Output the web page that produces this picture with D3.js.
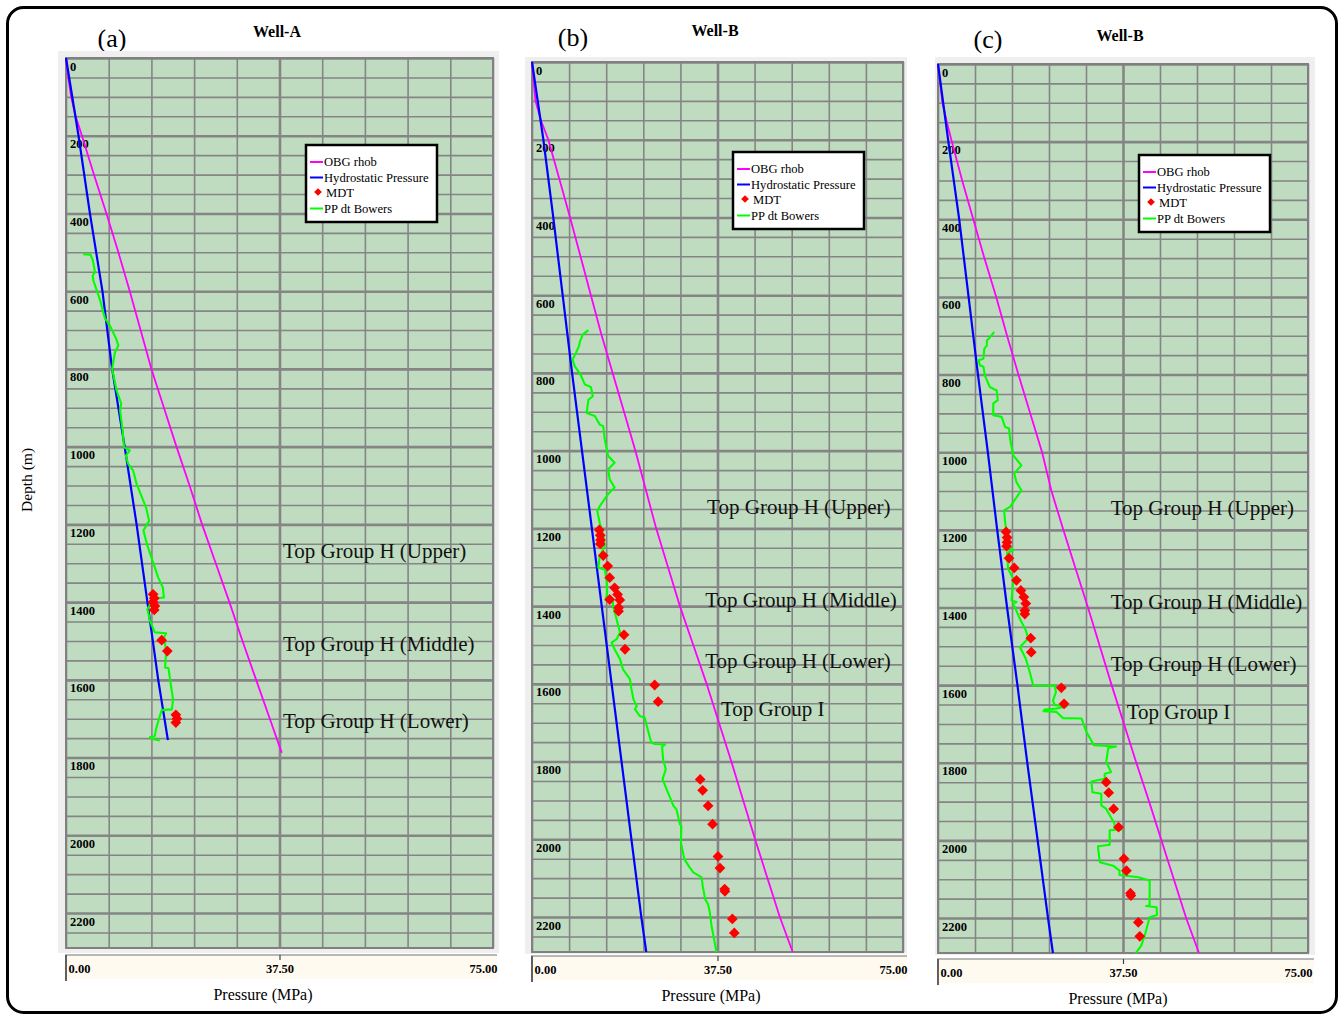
<!DOCTYPE html>
<html>
<head>
<meta charset="utf-8">
<script src="https://cdn.jsdelivr.net/npm/d3@7"></script>
<style>
  html, body { margin: 0; padding: 0; background: #ffffff; }
  svg { display: block; }
  text { font-family: "Liberation Serif", "Times New Roman", serif; }
</style>
</head>
<body>
<svg id="chart" width="1339" height="1015"></svg>
<script>
// ---- Data: [depth (m), pressure (MPa)] ----

// Well-A
const wellA_hydro = [[0,0],[200,2.2],[400,4.2],[600,6.4],[800,8.1],[1000,10.3],[1200,12.4],[1400,14.3],[1600,16.2],[1755,17.9]];
const wellA_obg = [[0,0],[50,0.4],[100,0.9],[150,1.7],[200,2.8],[300,4.9],[400,7.1],[500,9.2],[600,11.2],[700,13.1],[800,15.0],[900,17.2],[1000,19.4],[1100,21.7],[1200,23.9],[1300,26.3],[1400,28.7],[1500,31.0],[1600,33.4],[1700,35.8],[1788,37.9]];
const wellA_pp = [[505,3.0],[506,4.3],[520,4.7],[551,5.1],[559,4.7],[572,4.8],[624,6.0],[670,6.85],[688,7.7],[722,8.8],[740,9.2],[757,8.6],[783,8.3],[800,8.1],[856,8.9],[889,9.7],[907,9.5],[959,9.95],[1002,10.2],[1010,11.2],[1023,10.5],[1044,10.9],[1062,11.8],[1096,12.4],[1156,14.05],[1191,14.6],[1216,13.6],[1250,14.2],[1285,15.0],[1337,16.2],[1362,17.0],[1388,17.2],[1390,16.2],[1401,15.0],[1418,14.3],[1448,14.75],[1478,15.6],[1480,17.6],[1491,17.2],[1526,17.6],[1568,17.4],[1570,18.0],[1611,18.4],[1650,18.8],[1676,18.6],[1678,16.8],[1697,16.4],[1727,15.8],[1745,15.6],[1747,14.75],[1753,15.3],[1756,16.5]];
const wellA_mdt = [[1380,15.3],[1390,15.5],[1400,15.3],[1410,15.6],[1420,15.5],[1498,16.8],[1526,17.8],[1690,19.3],[1700,19.5],[1710,19.3]];
const wellA_tops = [["Top Group H (Upper)",1268,38.1],["Top Group H (Middle)",1507,38.1],["Top Group H (Lower)",1706,38.1]];

// Well-B, panel (b)
const wellB_hydro = [[0,0],[200,2.3],[400,4.3],[600,6.2],[800,8.1],[1000,10.1],[1200,12.1],[1400,14.1],[1600,16.1],[1800,18.1],[2000,20.1],[2200,22.1],[2290,23.1]];
const wellB_obg = [[0,0],[100,0.7],[150,1.8],[200,3.3],[300,5.5],[400,7.7],[500,9.8],[600,11.9],[700,14.0],[800,16.3],[900,18.6],[1000,20.9],[1100,23.0],[1200,25.1],[1300,27.5],[1400,29.9],[1500,32.6],[1600,35.3],[1700,37.8],[1800,40.3],[1900,42.7],[2000,45.1],[2100,47.6],[2200,50.1],[2290,52.7]];
const wellB_pp = [[690,11.4],[701,10.3],[719,9.7],[731,9.5],[749,8.86],[766,8.2],[783,8.65],[804,9.8],[830,10.7],[836,11.9],[860,12.3],[869,11.4],[903,11.06],[911,12.7],[933,13.7],[937,14.4],[971,14.7],[1014,15.4],[1031,16.7],[1048,15.4],[1074,15.7],[1095,16.7],[1110,15.5],[1143,13.7],[1156,13.2],[1186,13.7],[1216,14.4],[1246,14.7],[1271,13.7],[1301,13.4],[1306,14.7],[1331,15.06],[1365,15.2],[1385,14.9],[1382,16.3],[1400,16.4],[1434,17.1],[1468,17.8],[1485,17.1],[1494,16.1],[1511,16.7],[1537,17.8],[1563,18.4],[1588,19.8],[1606,20.0],[1640,20.5],[1657,21.2],[1665,20.8],[1683,21.8],[1687,22.8],[1708,23.2],[1751,24.1],[1755,24.8],[1756,26.9],[1762,26.3],[1794,26.5],[1820,27.05],[1845,26.4],[1871,27.2],[1914,28.6],[1923,29.2],[1961,29.9],[1966,30.2],[2008,30.1],[2051,30.8],[2073,31.9],[2085,32.6],[2098,34.3],[2120,34.5],[2154,35.0],[2167,35.6],[2188,35.95],[2223,36.3],[2290,37.3]];
const wellB_mdt = [[1204,13.6],[1218,13.8],[1230,13.85],[1240,13.8],[1270,14.4],[1297,15.3],[1327,15.7],[1353,16.7],[1370,17.3],[1384,17.75],[1383,15.7],[1404,17.5],[1413,17.5],[1474,18.6],[1511,18.8],[1603,24.8],[1646,25.5],[1846,34.0],[1874,34.5],[1914,35.6],[1961,36.5],[2044,37.6],[2074,38.0],[2128,38.95],[2134,39.0],[2205,40.5],[2241,40.9]];
const wellB_tops = [["Top Group H (Upper)",1146,35.4],["Top Group H (Middle)",1385,35.0],["Top Group H (Lower)",1542,35.0],["Top Group I",1665,38.2]];

// Well-B, panel (c)
const wellC_hydro = [[0,0],[200,2.1],[400,4.3],[600,6.2],[800,8.1],[1000,10.1],[1200,12.0],[1400,14.0],[1600,16.1],[1800,18.1],[2000,20.2],[2200,22.3],[2290,23.3]];
const wellC_obg = [[0,0],[100,0.9],[150,1.8],[200,2.8],[300,4.9],[400,7.15],[500,9.4],[600,11.8],[700,14.0],[800,16.3],[900,18.7],[1000,21.1],[1100,23.0],[1200,25.4],[1300,27.9],[1400,30.4],[1500,32.8],[1600,35.2],[1700,37.7],[1800,40.2],[1900,42.8],[2000,45.3],[2100,47.8],[2200,50.3],[2290,52.9]];
const wellC_pp = [[690,11.4],[703,10.6],[712,9.9],[725,9.9],[733,9.4],[759,9.2],[763,8.2],[776,8.5],[780,9.2],[802,9.5],[832,10.5],[841,11.9],[866,12.1],[875,11.2],[905,11.2],[909,12.9],[935,13.6],[939,14.4],[965,14.6],[1008,15.25],[1034,16.9],[1055,15.45],[1077,15.9],[1098,16.9],[1141,14.6],[1150,13.4],[1180,13.6],[1210,14.0],[1240,14.4],[1253,15.25],[1259,14.0],[1300,14.2],[1326,15.25],[1382,14.9],[1386,15.9],[1390,15.25],[1429,16.6],[1459,17.8],[1480,18.3],[1502,16.6],[1532,17.8],[1566,18.6],[1601,19.3],[1602,23.7],[1618,23.9],[1640,23.3],[1652,23.7],[1655,26.05],[1660,24.0],[1663,21.6],[1667,21.4],[1669,24.0],[1685,25.35],[1686,29.1],[1721,30.1],[1755,31.6],[1758,36.1],[1762,34.5],[1798,34.1],[1824,35.1],[1828,33.8],[1841,33.8],[1848,31.1],[1876,31.3],[1880,33.1],[1910,33.1],[1919,34.1],[1957,35.8],[1970,35.8],[1972,37.2],[1974,34.8],[2011,34.8],[2015,32.4],[2056,32.8],[2065,35.5],[2078,36.8],[2089,36.8],[2095,40.6],[2103,42.9],[2168,42.9],[2169,42.2],[2172,44.3],[2192,44.4],[2198,42.9],[2245,41.9],[2271,41.2],[2290,40.1]];
const wellC_mdt = [[1205,13.8],[1220,14.0],[1232,14.0],[1242,13.9],[1273,14.4],[1298,15.45],[1330,15.9],[1356,16.8],[1373,17.4],[1390,17.8],[1408,17.6],[1417,17.6],[1479,18.8],[1515,18.9],[1607,25.0],[1648,25.55],[1850,34.1],[1877,34.6],[1919,35.6],[1966,36.6],[2047,37.7],[2078,38.2],[2136,39.0],[2142,39.1],[2211,40.6],[2247,40.9]];
const wellC_tops = [["Top Group H (Upper)",1143,35.0],["Top Group H (Middle)",1385,35.0],["Top Group H (Lower)",1545,35.0],["Top Group I",1668,38.25]];

// Axis ticks and legend entries
const pressureTicks = [0, 37.5, 75];
const pressureGrid = d3.range(0, 75.001, 7.5);
const depthLabels = d3.range(0, 2201, 200);
const depthGrid = d3.range(0, 2290, 50);
const legendItems = [
  { name: "OBG rhob", kind: "line", color: "#ff00ff" },
  { name: "Hydrostatic Pressure", kind: "line", color: "#0000ff" },
  { name: "MDT", kind: "mark", color: "#ff0000" },
  { name: "PP dt Bowers", kind: "line", color: "#00ff00" }
];

// ---- Layout of the three panels ----
const panels = [
  { letter: "(a)", title: "Well-A", plot: { x: 66, y: 58, w: 427, h: 890 },
    frame: { x: 58, y: 51, w: 441, h: 902 }, axisBox: { x: 65, y: 955, w: 432, h: 24 },
    letterPos: [112, 47], titlePos: [277, 37], legendPos: [306, 145], xTitle: [263, 1000],
    hydro: wellA_hydro, obg: wellA_obg, pp: wellA_pp, mdt: wellA_mdt, tops: wellA_tops },
  { letter: "(b)", title: "Well-B", plot: { x: 532, y: 62, w: 371, h: 890 },
    frame: { x: 525, y: 57, w: 382, h: 897 }, axisBox: { x: 531, y: 956, w: 376, h: 24 },
    letterPos: [573, 46], titlePos: [715, 36], legendPos: [733, 152], xTitle: [711, 1001],
    hydro: wellB_hydro, obg: wellB_obg, pp: wellB_pp, mdt: wellB_mdt, tops: wellB_tops },
  { letter: "(c)", title: "Well-B", plot: { x: 938, y: 64, w: 370, h: 889 },
    frame: { x: 935, y: 57, w: 380, h: 898 }, axisBox: { x: 937, y: 959, w: 377, h: 24 },
    letterPos: [988, 48], titlePos: [1120, 41], legendPos: [1139, 155], xTitle: [1118, 1004],
    hydro: wellC_hydro, obg: wellC_obg, pp: wellC_pp, mdt: wellC_mdt, tops: wellC_tops }
];

const svg = d3.select("#chart");

// Rounded outer border around the figure
svg.append("rect")
  .attr("x", 7.5).attr("y", 7.5).attr("width", 1329).attr("height", 1005)
  .attr("rx", 16).attr("ry", 16)
  .attr("fill", "#ffffff").attr("stroke", "#000000").attr("stroke-width", 3);

// Shared depth title
svg.append("text")
  .attr("transform", "translate(32,480) rotate(-90)")
  .attr("text-anchor", "middle")
  .attr("font-size", 15.5)
  .text("Depth (m)");

panels.forEach(p => {
  const { plot } = p;
  const x = d3.scaleLinear().domain([0, 75]).range([plot.x, plot.x + plot.w]);
  const y = d3.scaleLinear().domain([0, 2290]).range([plot.y, plot.y + plot.h]);
  const g = svg.append("g");

  // Panel letter and title
  g.append("text").attr("x", p.letterPos[0]).attr("y", p.letterPos[1])
    .attr("text-anchor", "middle").attr("font-size", 26).text(p.letter);
  g.append("text").attr("x", p.titlePos[0]).attr("y", p.titlePos[1])
    .attr("text-anchor", "middle").attr("font-size", 16).attr("font-weight", "bold").text(p.title);

  // Light frame of the chart control and plot background
  g.append("rect").attr("x", p.frame.x).attr("y", p.frame.y)
    .attr("width", p.frame.w).attr("height", p.frame.h).attr("fill", "#efefef");
  g.append("rect").attr("x", plot.x).attr("y", plot.y)
    .attr("width", plot.w).attr("height", plot.h).attr("fill", "#c0dcc0");

  // Vertical grid (pressure)
  const vGrid = g.append("g")
    .attr("transform", `translate(0,${plot.y + plot.h})`)
    .call(d3.axisBottom(x).tickValues(pressureGrid).tickSize(-plot.h).tickFormat(""));
  vGrid.select(".domain").remove();
  vGrid.selectAll(".tick line")
    .attr("stroke", "#858585")
    .attr("stroke-width", d => (d === 37.5 ? 2.6 : 1.6));

  // Horizontal grid (depth)
  const hGrid = g.append("g")
    .attr("transform", `translate(${plot.x},0)`)
    .call(d3.axisLeft(y).tickValues(depthGrid).tickSize(-plot.w).tickFormat(""));
  hGrid.select(".domain").remove();
  hGrid.selectAll(".tick line")
    .attr("stroke", "#858585")
    .attr("stroke-width", d => (d % 200 === 0 ? 2.6 : 1.6));

  // Plot border
  g.append("rect").attr("x", plot.x).attr("y", plot.y)
    .attr("width", plot.w).attr("height", plot.h)
    .attr("fill", "none").attr("stroke", "#808080").attr("stroke-width", 2);

  // Depth labels inside the plot
  g.selectAll(".dlab").data(depthLabels).enter().append("text")
    .attr("x", plot.x + 4).attr("y", d => y(d) + 12.5)
    .attr("font-size", 12.5).attr("font-weight", "bold")
    .text(d => d);

  // Formation top annotations
  g.selectAll(".top").data(p.tops).enter().append("text")
    .attr("x", d => x(d[2])).attr("y", d => y(d[1]) + 7)
    .attr("font-size", 21).attr("fill", "#111111")
    .text(d => d[0]);

  // Curves
  const line = d3.line().x(d => x(d[1])).y(d => y(d[0]));
  g.append("path").datum(p.obg).attr("d", line)
    .attr("fill", "none").attr("stroke", "#ff00ff").attr("stroke-width", 1.8);
  g.append("path").datum(p.hydro).attr("d", line)
    .attr("fill", "none").attr("stroke", "#0000ff").attr("stroke-width", 2.2);
  g.append("path").datum(p.pp).attr("d", line)
    .attr("fill", "none").attr("stroke", "#00ff00").attr("stroke-width", 2.1)
    .attr("stroke-linejoin", "round");

  // MDT points
  const diamond = d3.symbol().type(d3.symbolSquare).size(58);
  g.selectAll(".mdt").data(p.mdt).enter().append("path")
    .attr("d", diamond)
    .attr("transform", d => `translate(${x(d[1])},${y(d[0])}) rotate(45)`)
    .attr("fill", "#ff0000");

  // Pressure axis box
  const ab = p.axisBox;
  g.append("rect").attr("x", ab.x).attr("y", ab.y).attr("width", ab.w).attr("height", ab.h)
    .attr("fill", "#fffaf0");
  g.append("line").attr("x1", ab.x).attr("x2", ab.x + ab.w).attr("y1", ab.y).attr("y2", ab.y)
    .attr("stroke", "#a0a0a0").attr("stroke-width", 1.5);
  g.append("line").attr("x1", ab.x + 1).attr("x2", ab.x + 1).attr("y1", ab.y).attr("y2", ab.y + ab.h + 2)
    .attr("stroke", "#606060").attr("stroke-width", 2);
  const xAxis = g.append("g")
    .attr("transform", `translate(0,${ab.y})`)
    .call(d3.axisBottom(x).tickValues(pressureTicks).tickSize(5).tickFormat(d3.format(".2f")));
  xAxis.select(".domain").remove();
  xAxis.selectAll(".tick line").attr("stroke", "#404040").attr("stroke-width", 1.2)
    .attr("opacity", d => (d === 37.5 ? 1 : 0));
  xAxis.selectAll(".tick text")
    .attr("font-family", "'Liberation Serif', 'Times New Roman', serif")
    .attr("font-size", 12.5).attr("font-weight", "bold").attr("fill", "#000")
    .attr("y", 9)
    .attr("text-anchor", d => (d === 0 ? "start" : d === 75 ? "end" : "middle"))
    .attr("dx", d => (d === 0 ? 2 : d === 75 ? 4 : 0));

  g.append("text").attr("x", p.xTitle[0]).attr("y", p.xTitle[1])
    .attr("text-anchor", "middle").attr("font-size", 16).text("Pressure (MPa)");

  // Legend
  const [lx, ly] = p.legendPos;
  const lg = g.append("g").attr("transform", `translate(${lx},${ly})`);
  lg.append("rect").attr("width", 131).attr("height", 77)
    .attr("fill", "#ffffff").attr("stroke", "#000000").attr("stroke-width", 2.5);
  const rows = lg.selectAll(".item").data(legendItems).enter().append("g")
    .attr("transform", (d, i) => `translate(0,${17 + i * 15.5})`);
  rows.filter(d => d.kind === "line").append("line")
    .attr("x1", 4).attr("x2", 17).attr("y1", 0).attr("y2", 0)
    .attr("stroke", d => d.color).attr("stroke-width", 2);
  rows.filter(d => d.kind === "mark").append("path")
    .attr("d", d3.symbol().type(d3.symbolSquare).size(30))
    .attr("transform", "translate(12,-1) rotate(45)")
    .attr("fill", d => d.color);
  rows.append("text").attr("x", d => (d.kind === "mark" ? 20 : 18)).attr("y", 4)
    .attr("font-size", 12.6).text(d => d.name);
});
</script>
</body>
</html>
